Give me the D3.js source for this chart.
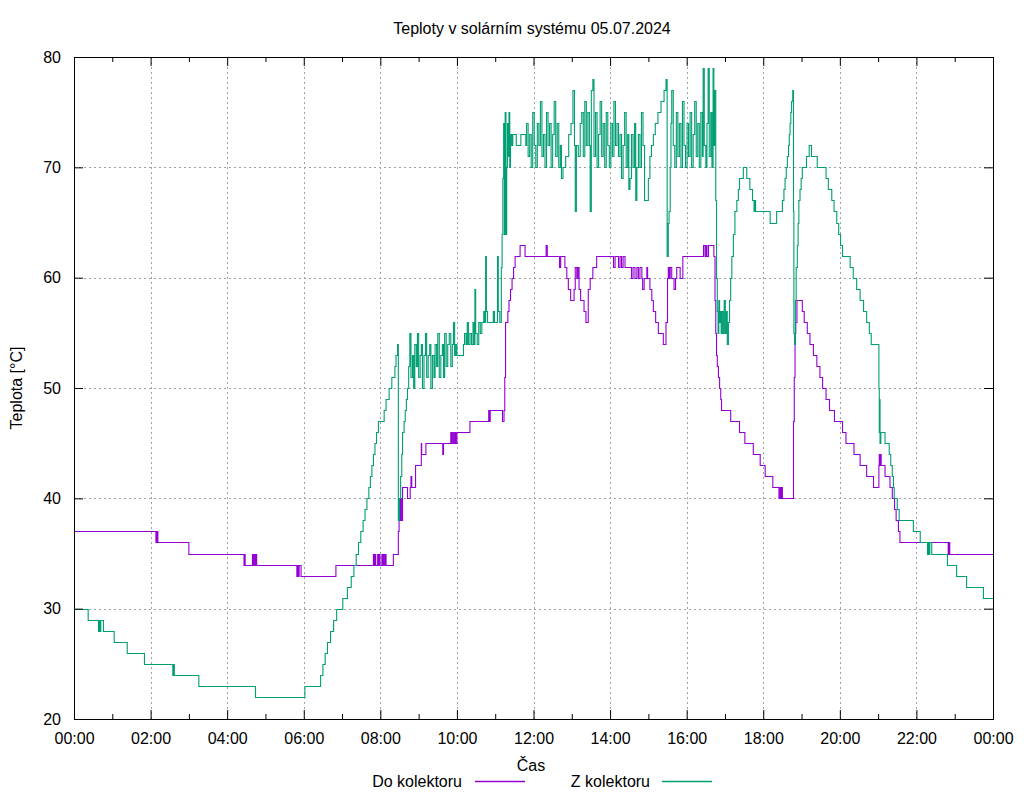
<!DOCTYPE html>
<html>
<head>
<meta charset="utf-8">
<script src="https://cdn.jsdelivr.net/npm/d3@7"></script>
<style>
  html, body { margin: 0; padding: 0; background: #fff; }
  svg text { font-family: "Liberation Sans", Arial, sans-serif; fill: #000; }
</style>
</head>
<body>
<svg id="chart" width="1024" height="800"></svg>
<script>
// ---------------- DATA ----------------
const chartTitle = "Teploty v solárním systému 05.07.2024";
const xAxisTitle = "Čas";
const yAxisTitle = "Teplota [°C]";
const seriesNames = ["Do kolektoru", "Z kolektoru"];
const seriesColors = ["#9400d3", "#009e73"];

const xMajorTicks = [0, 2, 4, 6, 8, 10, 12, 14, 16, 18, 20, 22, 24];
const xTickLabels = ["00:00","02:00","04:00","06:00","08:00","10:00","12:00","14:00","16:00","18:00","20:00","22:00","00:00"];
const xMinorTicks = [1, 3, 5, 7, 9, 11, 13, 15, 17, 19, 21, 23];
const yTicks = [20, 30, 40, 50, 60, 70, 80];

// [hour of day, temperature °C]  — "Do kolektoru"
const doKolektoru = [
  [0,37],[2.14,36],[2.155,37],[2.165,36],[2.175,37],[2.19,36],
  [3.0,35],
  [4.44,34],[4.46,35],[4.47,34],[4.50,34],[4.66,35],[4.67,34],[4.68,35],[4.70,34],[4.71,35],[4.74,34],[4.75,35],[4.77,34],
  [5.82,33],[5.84,34],[5.86,33],[5.88,34],[5.93,33],
  [6.84,34],
  [7.82,35],[7.84,34],[7.86,35],[7.88,34],[7.93,35],[7.95,34],[7.97,35],[7.99,34],[8.04,35],[8.06,34],[8.08,35],[8.10,34],[8.13,35],[8.15,34],
  [8.34,35],[8.47,37],[8.49,40],[8.51,38],[8.53,40],[8.55,38],[8.58,41],[8.71,40],[8.78,41],[8.80,42],[8.82,41],
  [8.92,43],[9.07,45],[9.08,44],[9.19,45],[9.63,44],[9.65,45],[9.84,46],[9.86,45],[9.89,46],[9.92,45],[9.95,46],[9.97,45],[10.0,46],
  [10.34,47],[10.83,48],[10.85,47],[10.87,48],[11.19,47],[11.23,48],[11.25,51],[11.27,56],[11.33,57],[11.36,58],[11.40,59],[11.44,60],[11.48,61],[11.52,62],[11.65,63],[11.78,62],
  [12.33,63],[12.36,62],[12.68,61],[12.71,62],[12.82,61],[12.87,60],[12.91,59],[12.97,58],[13.06,59],[13.09,61],[13.13,60],[13.16,61],[13.19,59],[13.23,58],[13.32,57],[13.37,56],[13.43,59],[13.48,60],[13.55,61],[13.65,62],
  [14.09,61],[14.13,62],[14.22,61],[14.26,62],[14.30,61],[14.34,62],[14.39,61],[14.56,60],[14.60,61],[14.65,60],[14.70,61],[14.74,60],[14.78,61],[14.83,60],[14.85,59],[14.89,60],[14.96,61],[14.98,60],
  [15.04,59],[15.09,58],[15.13,57],[15.19,56],[15.26,55],[15.39,54],[15.46,56],[15.50,60],[15.52,61],[15.55,60],[15.57,61],[15.61,60],[15.67,59],[15.71,60],[15.74,61],[15.83,60],[15.90,62],
  [16.44,63],[16.48,62],[16.51,63],[16.53,62],[16.57,63],[16.71,62],[16.74,58],[16.76,55],[16.78,53],[16.80,52],[16.83,51],[16.86,50],[16.89,49],[16.91,48],
  [17.15,47],[17.38,46],[17.52,45],[17.74,44],[17.92,43],[18.05,42],[18.25,41],[18.41,40],[18.44,41],[18.46,40],[18.48,41],[18.50,40],
  [18.79,47],[18.81,51],[18.83,55],[18.85,56],[18.88,58],[19.02,57],[19.07,56],[19.15,55],[19.22,54],[19.31,53],[19.40,52],[19.48,51],[19.55,50],[19.64,49],[19.73,48],[19.86,47],
  [20.07,46],[20.16,45],[20.37,44],[20.53,43],[20.70,42],[20.88,41],[21.02,43],[21.03,44],[21.05,43],[21.06,44],[21.08,43],[21.18,42],[21.31,41],[21.37,40],[21.43,39],[21.47,38],[21.53,37],[21.57,36],
  [22.83,35],[22.85,36],[22.87,35],[24,35]
];

// [hour of day, temperature °C]  — "Z kolektoru"
const zKolektoru = [
  [0,30],[0.37,29],[0.64,28],[0.66,29],[0.68,28],[0.70,29],[0.77,28],[1.05,27],[1.39,26],[1.84,25],[2.58,24],[2.60,25],[2.62,24],[3.26,23],[4.74,22],[6.03,23],
  [6.44,24],[6.50,25],[6.56,26],[6.62,27],[6.70,28],[6.78,29],[6.86,30],[7.02,31],[7.14,32],[7.24,33],[7.31,34],[7.37,35],[7.43,36],[7.49,37],[7.55,38],[7.60,39],[7.65,40],[7.70,41],[7.74,42],[7.78,43],[7.82,44],[7.86,45],[7.90,46],[7.95,47],
  [8.10,48],[8.15,49],[8.23,50],[8.30,51],[8.38,52],[8.41,53],[8.45,54],[8.47,38],[8.50,40],[8.53,42],[8.56,44],[8.58,46],[8.62,47],[8.65,48],[8.68,49],[8.71,50],
  [8.74,52],[8.77,55],[8.80,51],[8.84,53],[8.87,50],[8.90,54],[8.94,52],[8.97,55],[9.00,51],[9.04,53],[9.07,54],[9.10,50],[9.14,53],[9.18,55],[9.21,51],[9.25,53],[9.29,54],[9.32,50],[9.36,53],[9.40,51],[9.43,54],[9.47,52],[9.50,55],[9.54,51],[9.58,53],[9.62,54],[9.65,51],[9.68,55],[9.72,52],[9.76,54],[9.80,55],[9.84,52],[9.88,54],[9.91,56],[9.94,53],[9.97,54],[10.0,53],
  [10.17,54],[10.20,55],[10.24,54],[10.27,56],[10.30,54],[10.34,55],[10.38,54],[10.42,56],[10.45,54],[10.47,59],[10.49,55],[10.53,54],[10.57,56],[10.61,55],[10.65,56],[10.70,57],[10.73,56],[10.75,62],[10.77,57],[10.80,56],[10.95,57],[10.98,56],[11.04,56],[11.06,62],[11.08,57],[11.12,56],
  [11.16,61],[11.18,64],[11.20,69],[11.22,74],[11.24,64],[11.26,75],[11.28,64],[11.30,70],[11.32,74],[11.34,71],[11.36,75],[11.38,70],[11.40,73],[11.43,72],[11.46,73],[11.55,72],[11.67,73],[11.80,72],
  [11.82,74],[11.86,71],[11.90,73],[11.94,70],[11.98,75],[12.02,72],[12.06,70],[12.10,74],[12.14,72],[12.18,76],[12.22,71],[12.26,73],[12.30,70],[12.34,75],[12.38,72],[12.42,74],[12.46,70],[12.50,73],[12.54,76],[12.58,71],[12.62,74],[12.66,70],[12.70,72],[12.73,69],[12.77,70],
  [12.84,71],[12.92,73],[12.98,74],[13.03,77],[13.07,72],[13.09,66],[13.12,72],[13.17,71],[13.22,74],[13.26,75],[13.30,71],[13.34,76],[13.38,72],[13.42,75],[13.46,72],[13.48,66],[13.51,77],[13.55,78],[13.58,71],
  [13.62,75],[13.66,70],[13.70,73],[13.74,76],[13.78,71],[13.82,74],[13.86,70],[13.90,75],[13.94,72],[13.98,70],[14.02,74],[14.06,71],[14.10,76],[14.14,72],[14.18,74],[14.22,71],[14.26,73],[14.30,69],[14.34,72],[14.38,75],[14.42,70],[14.46,73],[14.49,68],[14.52,69],[14.56,73],[14.60,70],[14.64,74],[14.67,67],[14.70,70],[14.74,73],[14.78,70],[14.82,75],[14.86,72],[14.90,67],
  [15.00,69],[15.04,71],[15.08,72],[15.13,73],[15.18,74],[15.25,75],[15.33,76],[15.41,77],[15.46,78],[15.49,62],[15.52,65],[15.54,66],[15.57,70],[15.59,74],[15.61,77],
  [15.65,72],[15.69,70],[15.73,75],[15.77,71],[15.81,74],[15.85,70],[15.89,76],[15.93,72],[15.97,70],[16.01,74],[16.05,71],[16.09,75],[16.13,70],[16.17,73],[16.21,76],[16.25,71],[16.29,74],[16.33,70],[16.37,75],[16.41,71],[16.43,79],[16.46,72],[16.50,70],[16.53,74],[16.56,79],[16.59,71],[16.63,75],[16.66,70],[16.69,79],[16.71,72],[16.73,77],
  [16.76,67],[16.78,60],[16.80,57],[16.82,55],[16.84,58],[16.86,56],[16.88,57],[16.90,55],[16.92,57],[16.95,55],[16.98,58],[17.01,55],[17.04,57],[17.06,54],[17.09,56],[17.12,58],[17.15,60],[17.18,62],[17.22,64],[17.26,66],[17.31,67],[17.35,68],[17.38,69],[17.48,70],[17.57,69],[17.65,68],[17.72,67],[17.76,66],[17.78,67],[17.80,66],
  [18.18,65],[18.35,66],[18.50,67],[18.54,68],[18.57,69],[18.60,70],[18.63,71],[18.66,72],[18.68,73],[18.70,74],[18.72,75],[18.74,76],[18.77,77],[18.79,66],[18.80,55],[18.82,54],[18.84,58],[18.86,61],[18.89,63],[18.91,65],[18.93,67],[18.96,68],[18.99,69],[19.02,70],[19.13,71],[19.20,72],[19.26,71],
  [19.41,70],[19.64,69],[19.70,68],[19.79,67],[19.85,66],[19.92,65],[19.97,64],[20.02,63],[20.07,62],[20.27,61],[20.35,60],[20.44,59],[20.53,58],[20.62,57],[20.70,56],[20.77,55],[20.82,54],
  [21.02,50],[21.03,46],[21.04,49],[21.05,45],[21.07,46],[21.18,45],[21.29,44],[21.33,43],[21.37,42],[21.40,41],[21.42,40],[21.50,39],[21.55,38],[21.92,37],[22.10,36],[22.29,35],[22.31,36],[22.33,35],[22.35,36],[22.40,35],[22.81,34],[23.05,33],[23.31,32],[23.75,31],[24,31]
];

// ---------------- CHART ----------------
const svg = d3.select("#chart");
const plotL = 74, plotR = 993, plotT = 57, plotB = 719;

const x = d3.scaleLinear().domain([0, 24]).range([plotL, plotR]);
const y = d3.scaleLinear().domain([20, 80]).range([plotB, plotT]);

const fontSize = 16;

// grid
const grid = svg.append("g").attr("stroke", "#a0a0a0").attr("stroke-width", 1).attr("stroke-dasharray", "2,3");
xMajorTicks.filter(t => t > 0 && t < 24).forEach(t => {
  grid.append("line").attr("x1", Math.round(x(t)) + 0.5).attr("x2", Math.round(x(t)) + 0.5)
    .attr("y1", plotT).attr("y2", plotB);
});
yTicks.filter(t => t > 20 && t < 80).forEach(t => {
  grid.append("line").attr("y1", Math.round(y(t)) + 0.5).attr("y2", Math.round(y(t)) + 0.5)
    .attr("x1", plotL).attr("x2", plotR);
});

// data lines
const line = d3.line().x(d => x(d[0])).y(d => Math.round(y(d[1])) + 0.5).curve(d3.curveStepAfter);
[doKolektoru, zKolektoru].forEach((s, i) => {
  svg.append("path").datum(s).attr("d", line)
    .attr("fill", "none").attr("stroke", seriesColors[i]).attr("stroke-width", 1.1);
});

// axes (ticks inward, gnuplot style)
const fmt = (d) => xTickLabels[xMajorTicks.indexOf(d)];
const axB = svg.append("g").attr("transform", `translate(0,${plotB})`)
  .call(d3.axisBottom(x).tickValues(xMajorTicks).tickSize(-9).tickPadding(14).tickFormat(fmt));
const axBm = svg.append("g").attr("transform", `translate(0,${plotB})`)
  .call(d3.axisBottom(x).tickValues(xMinorTicks).tickSize(-5).tickFormat(""));
const axT = svg.append("g").attr("transform", `translate(0,${plotT})`)
  .call(d3.axisTop(x).tickValues(xMajorTicks).tickSize(-9).tickFormat(""));
const axTm = svg.append("g").attr("transform", `translate(0,${plotT})`)
  .call(d3.axisTop(x).tickValues(xMinorTicks).tickSize(-5).tickFormat(""));
const axL = svg.append("g").attr("transform", `translate(${plotL},0)`)
  .call(d3.axisLeft(y).tickValues(yTicks).tickSize(-9).tickPadding(13).tickFormat(d3.format("d")));
const axR = svg.append("g").attr("transform", `translate(${plotR},0)`)
  .call(d3.axisRight(y).tickValues(yTicks).tickSize(-9).tickFormat(""));
[axB, axBm, axT, axTm, axL, axR].forEach(g => {
  g.select(".domain").remove();
  g.selectAll("line").attr("stroke", "#000");
  g.selectAll("text").attr("font-size", fontSize).attr("font-family", "Liberation Sans, Arial, sans-serif");
});

// border
svg.append("rect").attr("x", plotL + 0.5).attr("y", plotT + 0.5)
  .attr("width", plotR - plotL).attr("height", plotB - plotT)
  .attr("fill", "none").attr("stroke", "#000").attr("stroke-width", 1);

// titles
svg.append("text").attr("x", 532).attr("y", 34).attr("text-anchor", "middle")
  .attr("font-size", fontSize).text(chartTitle);
svg.append("text").attr("x", 531).attr("y", 771).attr("text-anchor", "middle")
  .attr("font-size", fontSize).text(xAxisTitle);
svg.append("text").attr("transform", "translate(22,388) rotate(-90)").attr("text-anchor", "middle")
  .attr("font-size", fontSize).text(yAxisTitle);

// legend
const legendItems = [
  { textRight: 462, lineX1: 475, lineX2: 525 },
  { textRight: 650, lineX1: 662, lineX2: 712 }
];
legendItems.forEach((it, i) => {
  svg.append("text").attr("x", it.textRight).attr("y", 787).attr("text-anchor", "end")
    .attr("font-size", fontSize).text(seriesNames[i]);
  svg.append("line").attr("x1", it.lineX1).attr("x2", it.lineX2).attr("y1", 781.5).attr("y2", 781.5)
    .attr("stroke", seriesColors[i]).attr("stroke-width", 1.3);
});
</script>
</body>
</html>
